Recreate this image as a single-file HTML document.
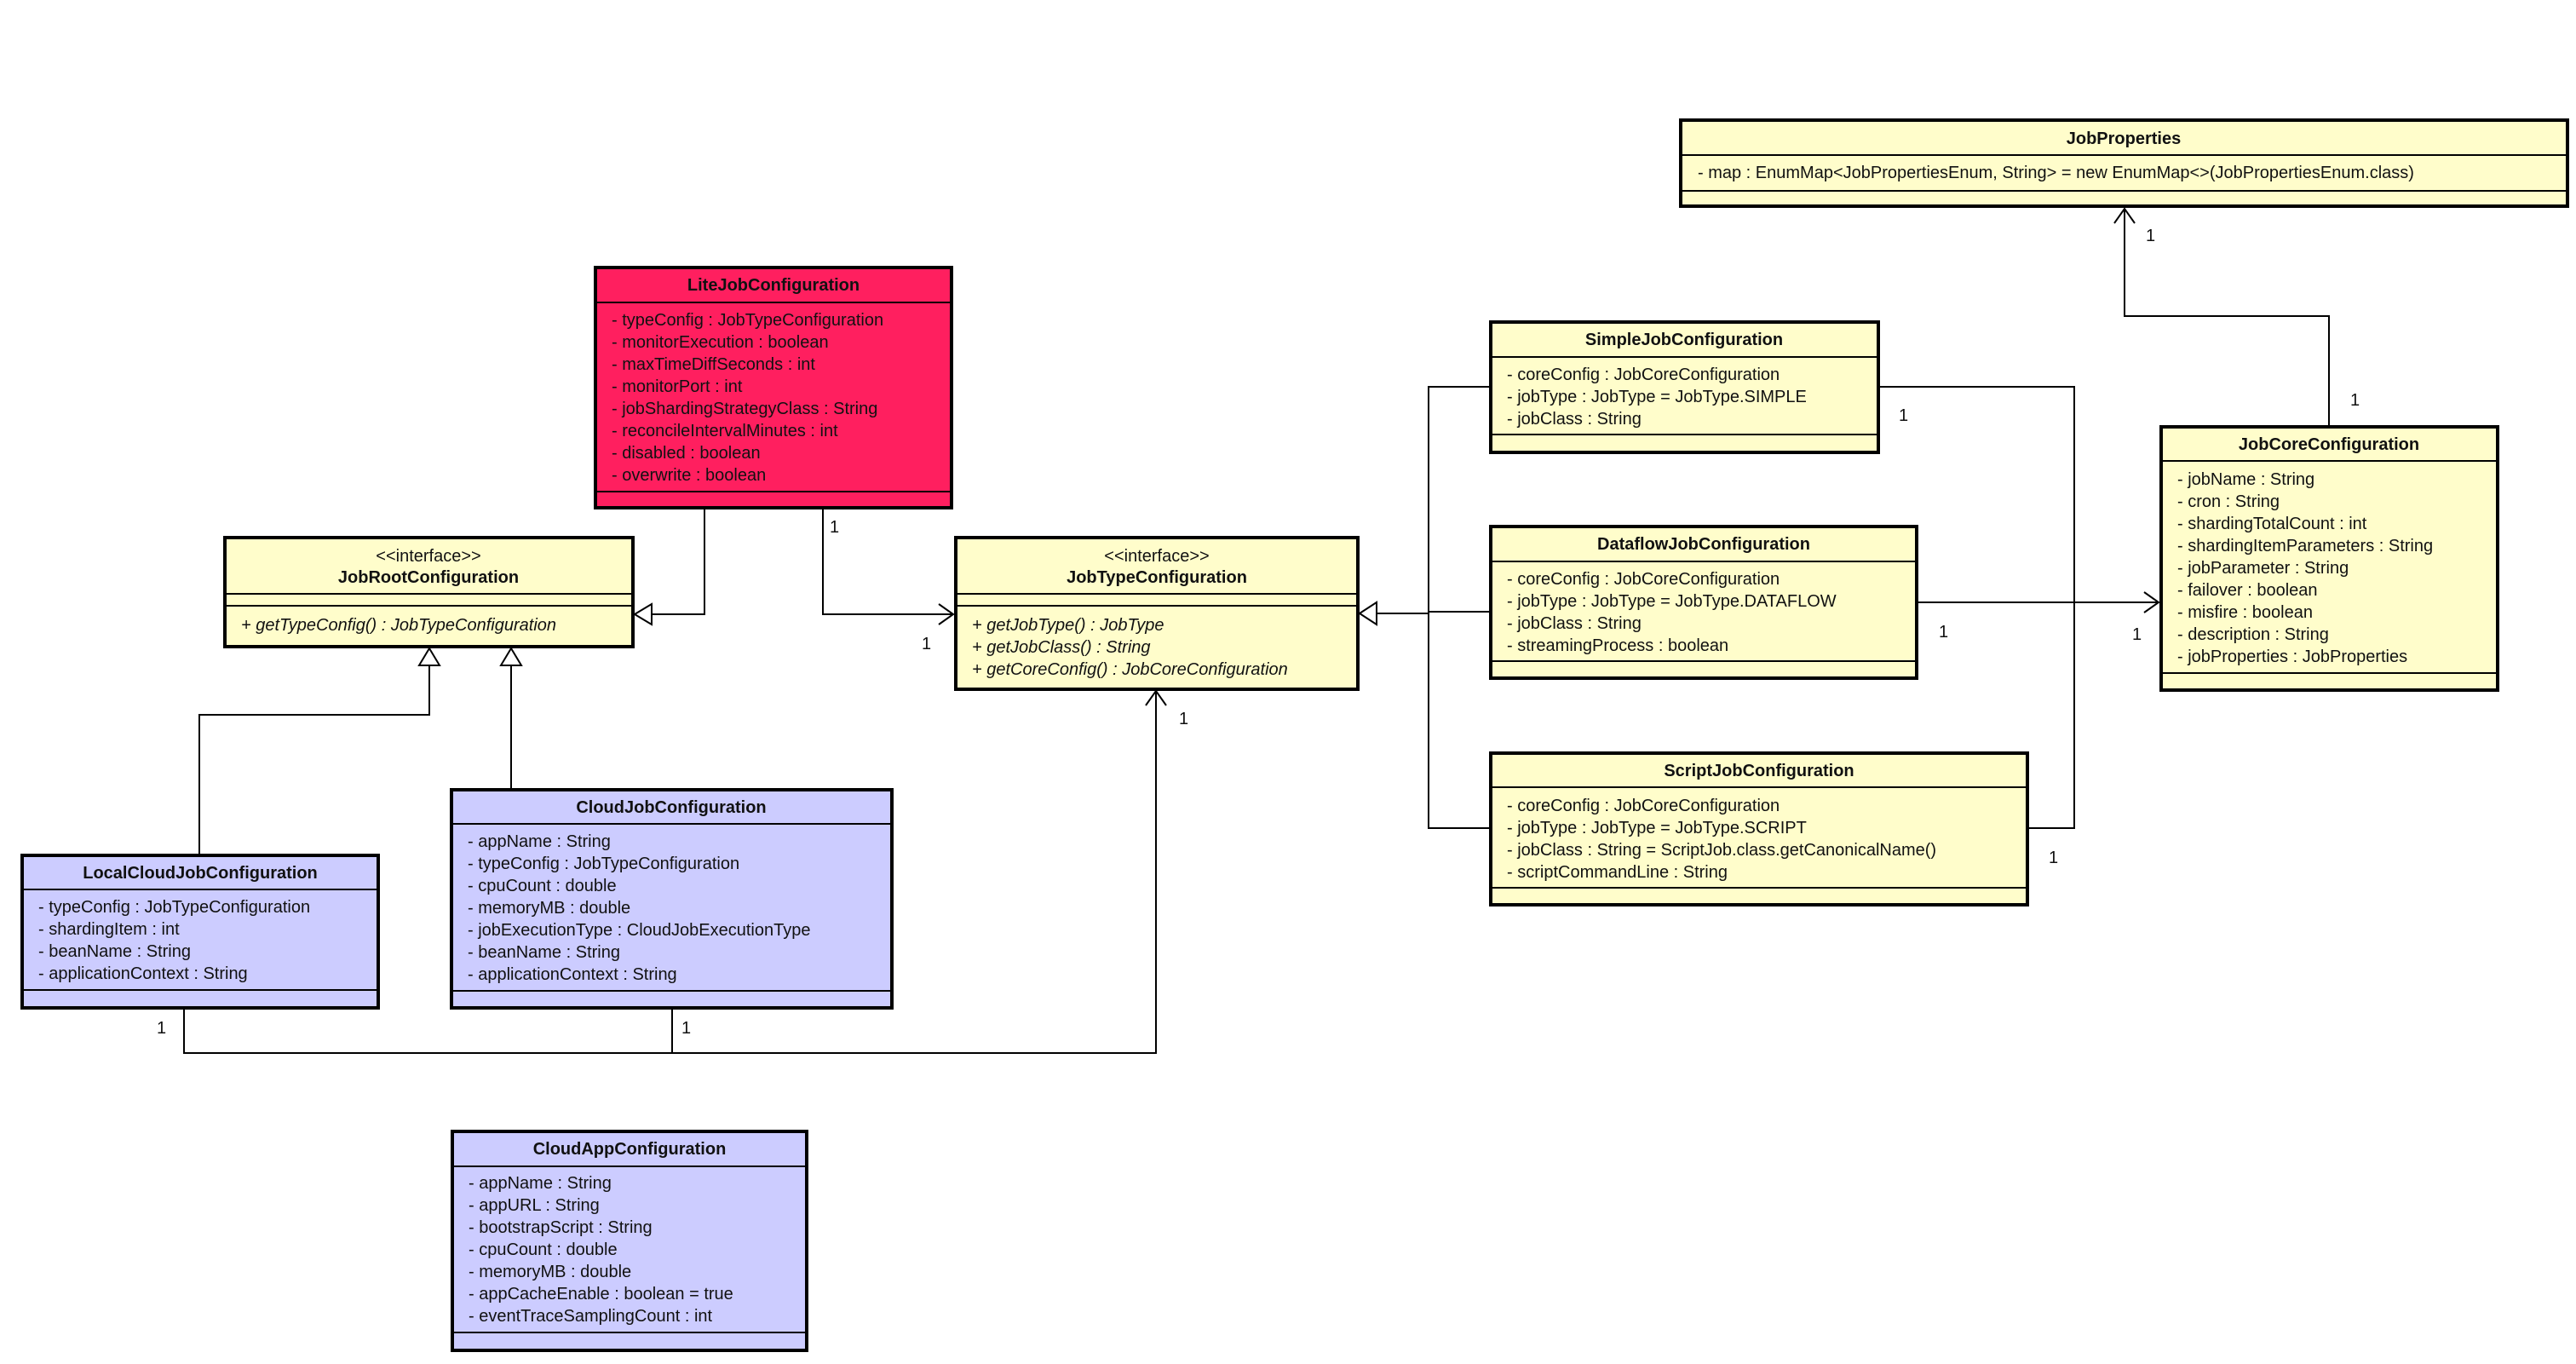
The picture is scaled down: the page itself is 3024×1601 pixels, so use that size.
<!DOCTYPE html>
<html><head><meta charset="utf-8"><style>
html,body{margin:0;padding:0;background:#fff;}
svg{display:block;}
text{font-family:"Liberation Sans",sans-serif;font-size:20px;fill:#111;dominant-baseline:central;}
.h{font-weight:bold;text-anchor:middle;}
.s{text-anchor:middle;}
.i{font-style:italic;}
.b{stroke:#000;stroke-width:4;}
.l{stroke:#000;stroke-width:2;fill:none;}
.y{fill:#fffdcb;}
.r{fill:#ff1f5f;}
.p{fill:#ccccff;}
</style></head><body>
<svg width="3024" height="1601" viewBox="0 0 3024 1601" xmlns="http://www.w3.org/2000/svg">
<!-- connectors -->
<g class="l">
<polyline points="827,596 827,721 765,721"/>
<polyline points="966,596 966,721 1119,721"/>
<polyline points="1102,709 1119,721 1102,733"/>
<polyline points="234,1003 234,839 504,839 504,781"/>
<polyline points="600,926 600,781"/>
<polyline points="216,1183 216,1236 1357,1236 1357,811"/>
<polyline points="789,1183 789,1236"/>
<polyline points="1345,828 1357,811 1369,828"/>
<polyline points="1749,454 1677,454 1677,972 1749,972"/>
<polyline points="1677,718 1749,718"/>
<polyline points="1677,720 1616,720"/>
<polyline points="2205,454 2435,454 2435,972 2380,972"/>
<polyline points="2250,707 2534,707"/>
<polyline points="2517,695 2534,707 2517,719"/>
<polyline points="2734,500 2734,371 2494,371 2494,245"/>
<polyline points="2482,262 2494,245 2506,262"/>
</g>
<g fill="#fff" stroke="#000" stroke-width="2">
<polygon points="745,721 765,709 765,733"/>
<polygon points="504,761 492,781 516,781"/>
<polygon points="600,761 588,781 612,781"/>
<polygon points="1596,720 1616,707 1616,733"/>
</g>
<!-- multiplicities -->
<text x="974" y="619">1</text><text x="1082" y="756">1</text>
<text x="184" y="1207">1</text><text x="800" y="1207">1</text><text x="1384" y="844">1</text>
<text x="2229" y="488">1</text><text x="2405" y="1007">1</text>
<text x="2276" y="742">1</text><text x="2503" y="745">1</text>
<text x="2519" y="277">1</text><text x="2759" y="470">1</text>

<!-- JobProperties -->
<rect class="b y" x="1973" y="141" width="1041" height="101"/>
<line class="l" x1="1973" y1="182" x2="3014" y2="182"/><line class="l" x1="1973" y1="224" x2="3014" y2="224"/>
<text class="h" x="2493" y="163">JobProperties</text>
<text x="1993" y="203">- map : EnumMap&lt;JobPropertiesEnum, String&gt; = new EnumMap&lt;&gt;(JobPropertiesEnum.class)</text>

<!-- LiteJob -->
<rect class="b r" x="699" y="314" width="418" height="282"/>
<line class="l" x1="699" y1="355" x2="1117" y2="355"/><line class="l" x1="699" y1="577" x2="1117" y2="577"/>
<text class="h" x="908" y="335">LiteJobConfiguration</text>
<text x="718" y="376">- typeConfig : JobTypeConfiguration</text>
<text x="718" y="402">- monitorExecution : boolean</text>
<text x="718" y="428">- maxTimeDiffSeconds : int</text>
<text x="718" y="454">- monitorPort : int</text>
<text x="718" y="480">- jobShardingStrategyClass : String</text>
<text x="718" y="506">- reconcileIntervalMinutes : int</text>
<text x="718" y="532">- disabled : boolean</text>
<text x="718" y="558">- overwrite : boolean</text>

<!-- JobRoot -->
<rect class="b y" x="264" y="631" width="479" height="128"/>
<line class="l" x1="264" y1="697" x2="743" y2="697"/><line class="l" x1="264" y1="711" x2="743" y2="711"/>
<text class="s" x="503" y="653">&lt;&lt;interface&gt;&gt;</text>
<text class="h" x="503" y="678">JobRootConfiguration</text>
<text class="i" x="283" y="734">+ getTypeConfig() : JobTypeConfiguration</text>

<!-- JobType -->
<rect class="b y" x="1122" y="631" width="472" height="178"/>
<line class="l" x1="1122" y1="697" x2="1594" y2="697"/><line class="l" x1="1122" y1="711" x2="1594" y2="711"/>
<text class="s" x="1358" y="653">&lt;&lt;interface&gt;&gt;</text>
<text class="h" x="1358" y="678">JobTypeConfiguration</text>
<text class="i" x="1141" y="734">+ getJobType() : JobType</text>
<text class="i" x="1141" y="760">+ getJobClass() : String</text>
<text class="i" x="1141" y="786">+ getCoreConfig() : JobCoreConfiguration</text>

<!-- LocalCloud -->
<rect class="b p" x="26" y="1004" width="418" height="179"/>
<line class="l" x1="26" y1="1044" x2="444" y2="1044"/><line class="l" x1="26" y1="1162" x2="444" y2="1162"/>
<text class="h" x="235" y="1025">LocalCloudJobConfiguration</text>
<text x="45" y="1065">- typeConfig : JobTypeConfiguration</text>
<text x="45" y="1091">- shardingItem : int</text>
<text x="45" y="1117">- beanName : String</text>
<text x="45" y="1143">- applicationContext : String</text>

<!-- Cloud -->
<rect class="b p" x="530" y="927" width="517" height="256"/>
<line class="l" x1="530" y1="967" x2="1047" y2="967"/><line class="l" x1="530" y1="1163" x2="1047" y2="1163"/>
<text class="h" x="788" y="948">CloudJobConfiguration</text>
<text x="549" y="988">- appName : String</text>
<text x="549" y="1014">- typeConfig : JobTypeConfiguration</text>
<text x="549" y="1040">- cpuCount : double</text>
<text x="549" y="1066">- memoryMB : double</text>
<text x="549" y="1092">- jobExecutionType : CloudJobExecutionType</text>
<text x="549" y="1118">- beanName : String</text>
<text x="549" y="1144">- applicationContext : String</text>

<!-- CloudApp -->
<rect class="b p" x="531" y="1328" width="416" height="257"/>
<line class="l" x1="531" y1="1369" x2="947" y2="1369"/><line class="l" x1="531" y1="1564" x2="947" y2="1564"/>
<text class="h" x="739" y="1349">CloudAppConfiguration</text>
<text x="550" y="1389">- appName : String</text>
<text x="550" y="1415">- appURL : String</text>
<text x="550" y="1441">- bootstrapScript : String</text>
<text x="550" y="1467">- cpuCount : double</text>
<text x="550" y="1493">- memoryMB : double</text>
<text x="550" y="1519">- appCacheEnable : boolean = true</text>
<text x="550" y="1545">- eventTraceSamplingCount : int</text>

<!-- Simple -->
<rect class="b y" x="1750" y="378" width="455" height="153"/>
<line class="l" x1="1750" y1="419" x2="2205" y2="419"/><line class="l" x1="1750" y1="510" x2="2205" y2="510"/>
<text class="h" x="1977" y="399">SimpleJobConfiguration</text>
<text x="1769" y="440">- coreConfig : JobCoreConfiguration</text>
<text x="1769" y="466">- jobType : JobType = JobType.SIMPLE</text>
<text x="1769" y="492">- jobClass : String</text>

<!-- Dataflow -->
<rect class="b y" x="1750" y="618" width="500" height="178"/>
<line class="l" x1="1750" y1="659" x2="2250" y2="659"/><line class="l" x1="1750" y1="776" x2="2250" y2="776"/>
<text class="h" x="2000" y="639">DataflowJobConfiguration</text>
<text x="1769" y="680">- coreConfig : JobCoreConfiguration</text>
<text x="1769" y="706">- jobType : JobType = JobType.DATAFLOW</text>
<text x="1769" y="732">- jobClass : String</text>
<text x="1769" y="758">- streamingProcess : boolean</text>

<!-- Script -->
<rect class="b y" x="1750" y="884" width="630" height="178"/>
<line class="l" x1="1750" y1="924" x2="2380" y2="924"/><line class="l" x1="1750" y1="1042" x2="2380" y2="1042"/>
<text class="h" x="2065" y="905">ScriptJobConfiguration</text>
<text x="1769" y="946">- coreConfig : JobCoreConfiguration</text>
<text x="1769" y="972">- jobType : JobType = JobType.SCRIPT</text>
<text x="1769" y="998">- jobClass : String = ScriptJob.class.getCanonicalName()</text>
<text x="1769" y="1024">- scriptCommandLine : String</text>

<!-- JobCore -->
<rect class="b y" x="2537" y="501" width="395" height="309"/>
<line class="l" x1="2537" y1="541" x2="2932" y2="541"/><line class="l" x1="2537" y1="790" x2="2932" y2="790"/>
<text class="h" x="2734" y="522">JobCoreConfiguration</text>
<text x="2556" y="563">- jobName : String</text>
<text x="2556" y="589">- cron : String</text>
<text x="2556" y="615">- shardingTotalCount : int</text>
<text x="2556" y="641">- shardingItemParameters : String</text>
<text x="2556" y="667">- jobParameter : String</text>
<text x="2556" y="693">- failover : boolean</text>
<text x="2556" y="719">- misfire : boolean</text>
<text x="2556" y="745">- description : String</text>
<text x="2556" y="771">- jobProperties : JobProperties</text>
</svg>
</body></html>
